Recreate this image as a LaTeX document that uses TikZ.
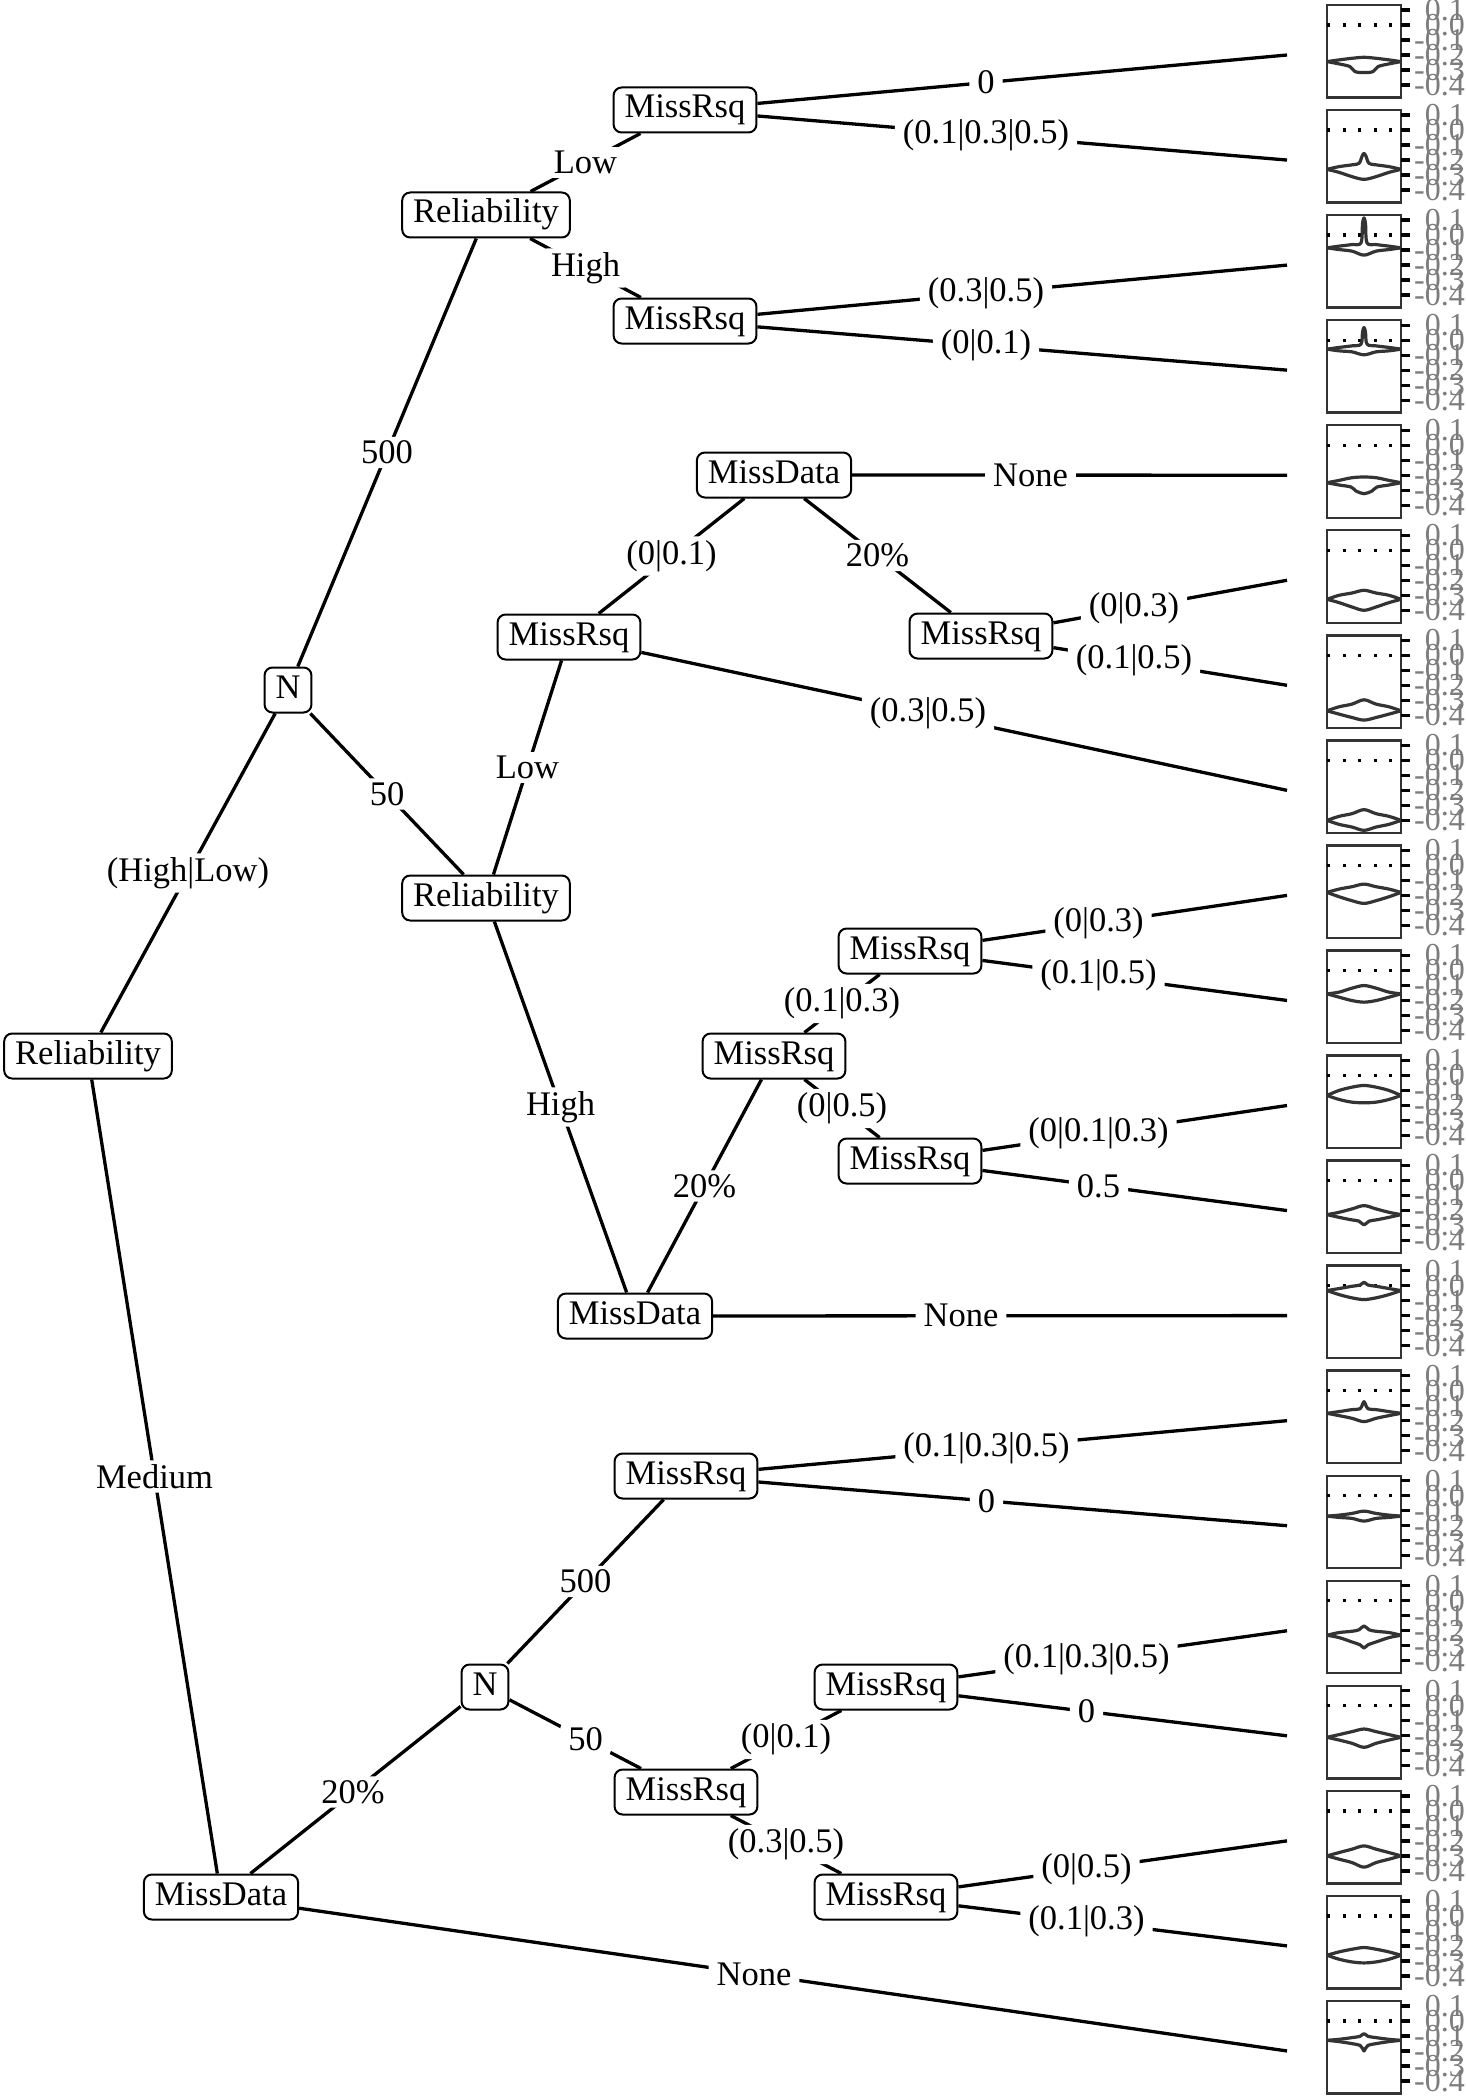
\documentclass[tikz,border=0pt]{standalone}
\usepackage{fontspec}
\setmainfont{Liberation Serif}
\usetikzlibrary{calc}
\newcommand\tfont{\fontsize{34.5}{40}\selectfont}
\newcommand\sfont{\fontsize{32}{32}\selectfont}
\definecolor{vcol}{HTML}{333333}
\definecolor{tcol}{HTML}{7C7C7C}
\tikzset{
  tnode/.style={draw, line width=2pt, rounded corners=8pt, fill=white,
    inner xsep=11pt, inner ysep=0pt, minimum height=45pt,
    text height=24pt, text depth=8pt, font=\tfont},
  edge/.style={line width=3.3pt},
  lbl/.style={fill=white, inner xsep=8pt, inner ysep=4pt, rounded corners=4pt, font=\tfont},
  pbox/.style={draw=vcol, line width=2.4pt},
  dotline/.style={line width=3.3pt, dash pattern=on 3.3pt off 12.2pt},
  tickmark/.style={line width=3.3pt},
  tlab/.style={text=tcol, font=\sfont, inner sep=0pt, anchor=east},
  vline/.style={draw=vcol, line width=3.2pt, line join=round}
}
\newcommand\edg[3]{\draw[edge] (#1) -- (#2);
  \node[lbl] (L#1#2) at ($(#1)!.5!(#2)$) {#3};}
\newcommand\vio[4]{%
  \pgfmathsetmacro\yb{10+105.05*#1+(0.1-(#2))*150}
  \begin{scope}[shift={(1364,\yb)},yscale=-1]
    \draw[vline] plot[smooth,tension=0.55] coordinates {#3};
    \draw[vline] plot[smooth,tension=0.55] coordinates {#4};
  \end{scope}}
\newcommand\vs[8]{\vio{#1}{#2}{(-37,0) (-25,#3) (-12,#4) (0,#5) (12,#4) (25,#3) (37,0)}{(-37,0) (-25,-#6) (-12,-#7) (0,-#8) (12,-#7) (25,-#6) (37,0)}}
\begin{document}
\begin{tikzpicture}[x=1pt,y=-1pt]
\useasboundingbox (0,0) rectangle (1465,2100);
% ---------- panels ----------
\foreach \i in {0,...,19}{
  \pgfmathsetmacro\T{5+105.05*\i}
  \draw[pbox] (1327,\T) rectangle (1401,\T+92.5);
  \draw[dotline] (1327,\T+20) -- (1393,\T+20);
  \foreach \t [count=\k from 0] in {0.1,0.0,-0.1,-0.2,-0.3,-0.4}{
    \draw[tickmark] (1401,\T+5+15*\k) -- (1410,\T+5+15*\k);
    \node[tlab] (t\i-\k) at (1465,\T+5+15*\k) {\t};
  }
  \coordinate (l\i) at (1287,55+105.05*\i);
}
% ---------- violins ----------
\vio{0}{-0.244}{(-37,0) (-25,1.7) (-12,3.3) (0,4.3) (12,3.3) (25,1.7) (37,0)}{(-37,0) (-25,-2.3) (-14,-5) (-9,-10) (0,-11) (9,-10) (14,-5) (25,-2.3) (37,0)}
\vio{1}{-0.262}{(-37,0) (-25,2.7) (-12,4.5) (-5,6) (-2,13) (0,16) (2,13) (5,6) (12,4.5) (25,2.7) (37,0)}{(-37,0) (-25,-3) (-12,-7.3) (0,-10) (12,-7.3) (25,-3) (37,0)}
\vio{2}{-0.085}{(-37,0) (-25,1.7) (-12,3.3) (-3,5) (-1.5,24) (0,30) (1.5,24) (3,5) (12,3.3) (25,1.7) (37,0)}{(-37,0) (-25,-1.7) (-12,-3.3) (0,-7.3) (12,-3.3) (25,-1.7) (37,0)}
\vio{3}{-0.06}{(-37,0) (-25,1.7) (-12,3.3) (-3,5) (-1.5,17) (0,21.7) (1.5,17) (3,5) (12,3.3) (25,1.7) (37,0)}{(-37,0) (-25,-1.7) (-12,-2.7) (0,-5.7) (12,-2.7) (25,-1.7) (37,0)}
\vio{4}{-0.25}{(-37,0) (-25,2.3) (-12,5) (0,5.7) (12,5) (25,2.3) (37,0)}{(-37,0) (-25,-2.3) (-13,-4.3) (-8,-8.3) (0,-11) (8,-8.3) (13,-4.3) (25,-2.3) (37,0)}
\vs{5}{-0.327}{4}{6.3}{9}{3.3}{7.7}{11}
\vs{6}{-0.37}{4}{6.7}{11}{3.3}{6.7}{9.3}
\vs{7}{-0.40}{4}{6.7}{10.7}{4}{6.7}{10}
\vs{8}{-0.18}{3.3}{5.7}{8.3}{4.3}{8.3}{11}
\vs{9}{-0.156}{1.7}{5.7}{8.3}{3.3}{6.7}{8.3}
\vs{10}{-0.133}{5}{8.3}{10}{4}{6.7}{7.3}
\vio{11}{-0.227}{(-37,0) (-25,2.3) (-12,5.7) (0,9) (12,5.7) (25,2.3) (37,0)}{(-37,0) (-25,-2.7) (-12,-5.3) (-5,-6.5) (0,-10.3) (5,-6.5) (12,-5.3) (25,-2.7) (37,0)}
\vio{12}{-0.033}{(-37,0) (-25,2) (-12,4.3) (-4,5.5) (0,8.3) (4,5.5) (12,4.3) (25,2) (37,0)}{(-37,0) (-25,-4) (-12,-7.3) (0,-9) (12,-7.3) (25,-4) (37,0)}
\vio{13}{-0.151}{(-37,0) (-25,1.7) (-12,3.7) (-4,4.5) (-1.5,9) (0,11.7) (1.5,9) (4,4.5) (12,3.7) (25,1.7) (37,0)}{(-37,0) (-25,-2.3) (-12,-5) (0,-8.3) (12,-5) (25,-2.3) (37,0)}
\vs{14}{-0.136}{1}{2.7}{5}{1.3}{2.3}{5}
\vio{15}{-0.23}{(-37,0) (-25,2.7) (-12,4) (-5,5.5) (0,9.3) (5,5.5) (12,4) (25,2.7) (37,0)}{(-37,0) (-25,-2.3) (-12,-6.7) (-4,-9.5) (0,-12.7) (4,-9.5) (12,-6.7) (25,-2.3) (37,0)}
\vs{16}{-0.21}{2.7}{5.7}{8.3}{2.7}{6}{10}
\vs{17}{-0.30}{3.3}{6.7}{10}{3.3}{6.7}{11.3}
\vs{18}{-0.262}{3.3}{6}{7.7}{4}{6.7}{7.7}
\vio{19}{-0.129}{(-37,0) (-25,1) (-12,2.7) (-4,4) (0,6.7) (4,4) (12,2.7) (25,1) (37,0)}{(-37,0) (-25,-1.3) (-12,-3.3) (-4,-5) (-1.5,-8) (0,-10.7) (1.5,-8) (4,-5) (12,-3.3) (25,-1.3) (37,0)}
% ---------- tree nodes ----------
\node[tnode] (r0) at (88,1056) {Reliability};
\node[tnode] (n1) at (288,690) {N};
\node[tnode] (r1) at (486,215) {Reliability};
\node[tnode] (ma) at (685,110) {MissRsq};
\node[tnode] (mb) at (685,321) {MissRsq};
\node[tnode] (r2) at (486,898) {Reliability};
\node[tnode] (mc) at (569,637) {MissRsq};
\node[tnode] (da) at (774,475) {MissData};
\node[tnode] (md) at (981,636) {MissRsq};
\node[tnode] (db) at (635,1316) {MissData};
\node[tnode] (me) at (774,1056) {MissRsq};
\node[tnode] (mf) at (910,951) {MissRsq};
\node[tnode] (mg) at (910,1161) {MissRsq};
\node[tnode] (dc) at (221,1897) {MissData};
\node[tnode] (n2) at (485,1687) {N};
\node[tnode] (mh) at (686,1476) {MissRsq};
\node[tnode] (mi) at (686,1792) {MissRsq};
\node[tnode] (mj) at (886,1687) {MissRsq};
\node[tnode] (mk) at (886,1897) {MissRsq};
% ---------- edges ----------
\edg{r0}{n1}{(High|Low)}
\edg{r0}{dc}{Medium}
\edg{n1}{r1}{500}
\edg{n1}{r2}{50}
\edg{r1}{ma}{Low}
\edg{r1}{mb}{High}
\edg{ma}{l0}{0}
\edg{ma}{l1}{(0.1|0.3|0.5)}
\edg{mb}{l2}{(0.3|0.5)}
\edg{mb}{l3}{(0|0.1)}
\edg{r2}{mc}{Low}
\edg{r2}{db}{High}
\edg{mc}{da}{(0|0.1)}
\edg{mc}{l7}{(0.3|0.5)}
\edg{da}{l4}{None}
\edg{da}{md}{20\%}
\edg{md}{l5}{(0|0.3)}
\edg{md}{l6}{(0.1|0.5)}
\edg{db}{me}{20\%}
\edg{db}{l12}{None}
\edg{me}{mf}{(0.1|0.3)}
\edg{me}{mg}{(0|0.5)}
\edg{mf}{l8}{(0|0.3)}
\edg{mf}{l9}{(0.1|0.5)}
\edg{mg}{l10}{(0|0.1|0.3)}
\edg{mg}{l11}{0.5}
\edg{dc}{n2}{20\%}
\edg{dc}{l19}{None}
\edg{n2}{mh}{500}
\edg{n2}{mi}{50}
\edg{mh}{l13}{(0.1|0.3|0.5)}
\edg{mh}{l14}{0}
\edg{mi}{mj}{(0|0.1)}
\edg{mi}{mk}{(0.3|0.5)}
\edg{mj}{l15}{(0.1|0.3|0.5)}
\edg{mj}{l16}{0}
\edg{mk}{l17}{(0|0.5)}
\edg{mk}{l18}{(0.1|0.3)}
\end{tikzpicture}
\end{document}
